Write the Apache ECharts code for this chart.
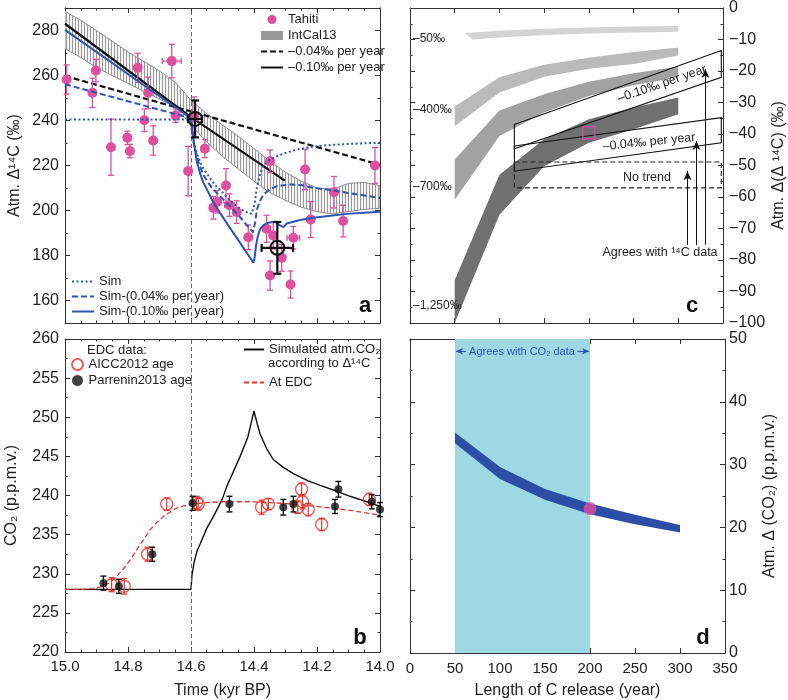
<!DOCTYPE html>
<html><head><meta charset="utf-8">
<script src="https://cdn.jsdelivr.net/npm/echarts@6/dist/echarts.min.js"></script>
<style>html,body{margin:0;padding:0;background:#fff}#c{width:788px;height:700px}</style>
</head><body><div id="c"></div>
<script>
// ================= DATA =================
// Panel a : atmospheric D14C (permil) vs time (kyr BP)
const tahiti = [ // [time, value, xErr, yErr]
  [14.995,258.2,0.01,6.5],[14.913,252.3,0.01,6.5],[14.902,262.2,0.01,5],[14.854,228.1,0.01,12.5],
  [14.802,232.3,0.01,3],[14.794,226.4,0.01,3],[14.769,263.4,0.01,6.5],[14.748,240.1,0.01,5],
  [14.736,252.3,0.01,7],[14.720,231.1,0.01,6.5],[14.661,266.4,0.03,7.5],[14.649,242.2,0.01,3],
  [14.609,217.5,0.01,11],[14.590,241.5,0.01,9],[14.556,227.5,0.01,4],[14.529,201.2,0.01,5],
  [14.517,203.9,0.01,5],[14.489,211.1,0.01,7.5],[14.478,202.4,0.015,5],[14.455,199.3,0.01,5],
  [14.418,188.1,0.01,5.5],[14.360,191.9,0.01,6],[14.349,221.9,0.01,5],[14.349,171.1,0.01,6.5],
  [14.339,188.9,0.01,6],[14.312,179.0,0.01,6],[14.284,167.1,0.01,6],[14.275,187.9,0.02,5],
  [14.238,218.2,0.01,9],[14.220,196.0,0.01,8],[14.146,208.1,0.01,7],[14.117,195.3,0.01,7],
  [14.016,220.0,0.01,8]
];
const bigCrosses = [[14.587,240.7,0.022,8.2],[14.326,183.4,0.05,11.5]];
const intcalUpper = [[15.0,288.5],[14.95,284.5],[14.9,280],[14.8,270.5],[14.7,262],[14.65,257],[14.6,249],
  [14.55,243],[14.5,238],[14.45,233],[14.4,227.5],[14.35,222],[14.3,217],[14.25,213],[14.2,210],
  [14.15,209.5],[14.1,212],[14.05,212.5],[14.0,211]];
const intcalLower = [[15.0,272],[14.95,268],[14.9,263.5],[14.8,256.5],[14.7,249.5],[14.65,246],[14.6,238],
  [14.55,230.5],[14.5,224],[14.45,218.5],[14.4,213],[14.35,208],[14.3,204.5],[14.25,201.5],[14.2,199.5],
  [14.15,198.5],[14.1,199.5],[14.05,200.5],[14.0,201]];
const trend004 = [[15.0,259.8],[14.0,220.3]];
const trend010 = [[15.0,283.0],[14.6,241.5],[14.302,213.3]];
const simDotted = [[15.0,240.5],[14.6,240.5],[14.598,236],[14.593,231],[14.582,225.6],[14.565,219.5],
  [14.55,216.5],[14.525,211.5],[14.508,209.3],[14.48,205],[14.455,201.9],[14.43,199.6],[14.407,198.5],
  [14.398,203],[14.39,211],[14.38,216.5],[14.37,220],[14.35,222.6],[14.328,224.1],[14.3,225.6],
  [14.264,227.1],[14.22,228.2],[14.18,228.9],[14.1,229.6],[14.0,230.1]];
const simDashed = [[15.0,256.1],[14.6,241],[14.597,236],[14.59,229],[14.575,221],[14.561,216],
  [14.545,212.3],[14.529,209.3],[14.5,205.2],[14.476,201.9],[14.45,198],[14.423,193.5],[14.403,190.3],
  [14.396,195],[14.391,200.4],[14.38,204.5],[14.37,207.1],[14.35,209.3],[14.328,210.8],[14.286,211.6],
  [14.25,211.3],[14.212,210.1],[14.15,209],[14.106,207.9],[14.05,206.7],[14.0,205.6]];
const simSolid = [[15.0,280.3],[14.6,241],[14.598,238],[14.593,232.5],[14.582,222],[14.571,216.5],
  [14.561,212.5],[14.55,209.5],[14.529,203.5],[14.487,194.5],[14.444,185.6],[14.402,176.8],
  [14.398,179],[14.394,184.1],[14.388,188.5],[14.381,191.6],[14.37,193.5],[14.355,194.6],[14.333,195],
  [14.32,193.6],[14.307,192.6],[14.296,194.2],[14.254,195.8],[14.212,196.8],[14.15,197.8],
  [14.106,198.5],[14.05,199],[14.0,199.4]];
const aTickLabels = [160,180,200,220,240,260,280];

// Panel b : CO2 (ppmv) vs time
const simCO2 = [[15.0,228],[14.6,228],[14.597,229.8],[14.59,231.5],[14.58,233],[14.571,233.8],
  [14.55,235.8],[14.529,237.3],[14.5,239.6],[14.487,241.1],[14.444,245],[14.42,247.4],[14.4,250.8],
  [14.39,249.2],[14.381,247.9],[14.37,246.9],[14.36,246],[14.339,244.6],[14.307,243.6],[14.275,242.8],
  [14.23,241.9],[14.19,241.3],[14.148,240.7],[14.095,239.9],[14.042,239.2],[14.0,238.6]];
const edcCurve = [[15.0,228],[14.95,228],[14.91,228.1],[14.88,228.4],[14.857,228.9],[14.835,229.7],
  [14.815,230.6],[14.792,231.8],[14.772,233.1],[14.75,234.4],[14.73,235.6],[14.71,236.5],[14.688,237.3],
  [14.666,237.9],[14.646,238.4],[14.62,238.7],[14.6,238.9],[14.55,239.1],[14.5,239.2],[14.413,239.2],
  [14.307,239.0],[14.201,238.6],[14.095,238.1],[14.0,237.5]];
const aicc2012 = [ // [time, CO2, err]
  [14.852,228.6,0.9],[14.812,228.4,1.0],[14.738,232.5,0.9],[14.677,238.9,0.8],[14.582,239.1,0.8],
  [14.577,238.9,0.8],[14.376,238.5,0.9],[14.354,238.9,0.7],[14.261,238.5,0.8],[14.249,240.8,0.8],
  [14.246,239.2,0.9],[14.228,238.2,0.8],[14.185,236.3,0.8],[14.034,239.5,0.8]];
const parrenin2013 = [
  [14.878,228.8,0.9],[14.829,228.4,0.9],[14.723,232.5,0.9],[14.595,239.0,0.9],[14.478,238.9,1.0],
  [14.307,238.5,1.0],[14.275,238.9,1.0],[14.143,238.6,0.9],[14.132,240.8,1.0],[14.026,239.2,0.9],
  [14.0,238.2,0.9]];

// Panel c : D(D14C) vs length of release (yr)
const releaseLen = [50,100,150,200,250,300];
const band50Upper = [[61,-7.9],[100,-7.2],[150,-6.6],[200,-6.2],[250,-5.9],[300,-5.7]];
const band50Lower = [[70,-10.0],[100,-9.4],[150,-8.6],[200,-8.1],[250,-7.8],[300,-7.5]];
const band400Upper = [-31.3,-22.0,-18.0,-15.8,-14.0,-12.5];
const band400Lower = [-37.5,-26.8,-21.8,-19.3,-17.8,-15.1];
const band700Upper = [-48.1,-32.5,-27.4,-23.4,-20.7,-18.6];
const band700Lower = [-60.9,-40.6,-33.2,-27.9,-24.5,-22.0];
const band1250Upper = [-86.4,-52.9,-41.7,-35.3,-31.6,-28.4];
const band1250Lower = [-100,-65.6,-50.2,-42.8,-38.5,-33.7];
const box010 = [[116.7,-37.0],[348.1,-13.5],[348.1,-22.0],[116.7,-44.7]];
const box004 = [[116.7,-43.8],[348.1,-34.8],[348.1,-42.8],[116.7,-51.8]];
const boxNoTrend = [[116.7,-48.9],[348.1,-48.9],[348.1,-57.1],[116.7,-57.1]];
const bestC = [[200,-39.6]];
const arrowX = [310.3,320.3,330.3];
const arrowTop = [-51.8,-42.2,-19.4];
const arrowBase = -75.2;

// Panel d : D(CO2) vs length of release
const co2Upper = [35.1,29.6,26.1,23.8,22.0,20.4];
const co2Lower = [33.4,27.7,24.4,22.1,20.5,19.2];
const bestD = [[200,23]];
const agreeRange = [50,200];

// ================= CHART =================
const FF = "'Liberation Sans', Arial, Helvetica, sans-serif";
const PINK = '#de4f9f', BLUE = '#2f55b0', RED = '#e8322b', TXT = '#222';

const hatch = document.createElement('canvas');
hatch.width = 3; hatch.height = 4;
(function(){const g = hatch.getContext('2d'); g.fillStyle = '#f6f6f6'; g.fillRect(0,0,3,4);
  g.fillStyle = '#999999'; g.fillRect(0,0,1,4);})();

const zipX = (ys) => ys.map((v,i)=>[releaseLen[i], v]);

function bandRender(upper, lower, style){
  return function(params, api){
    if (params.dataIndex !== 0) return;
    const pts = upper.map(p=>api.coord(p)).concat(lower.slice().reverse().map(p=>api.coord(p)));
    return {type:'polygon', shape:{points:pts}, style: style};
  };
}
function polyRender(pts, style){
  return function(params, api){
    if (params.dataIndex !== 0) return;
    return {type:'polygon', shape:{points:pts.map(p=>api.coord(p))}, style: style};
  };
}
function errRender(color, cap, lw){
  return function(params, api){
    const x = api.value(0), y = api.value(1), xe = api.value(2), ye = api.value(3);
    const st = {stroke: color, lineWidth: lw};
    const t = api.coord([x, y+ye]), b = api.coord([x, y-ye]);
    const ch = [
      {type:'line', shape:{x1:t[0],y1:t[1],x2:b[0],y2:b[1]}, style:st},
      {type:'line', shape:{x1:t[0]-cap,y1:t[1],x2:t[0]+cap,y2:t[1]}, style:st},
      {type:'line', shape:{x1:b[0]-cap,y1:b[1],x2:b[0]+cap,y2:b[1]}, style:st}
    ];
    if (xe > 0) {
      const l = api.coord([x-xe, y]), r = api.coord([x+xe, y]);
      ch.push({type:'line', shape:{x1:l[0],y1:l[1],x2:r[0],y2:r[1]}, style:st});
      ch.push({type:'line', shape:{x1:l[0],y1:l[1]-cap,x2:l[0],y2:l[1]+cap}, style:st});
      ch.push({type:'line', shape:{x1:r[0],y1:r[1]-cap,x2:r[0],y2:r[1]+cap}, style:st});
    }
    return {type:'group', children: ch};
  };
}
function crossRender(params, api){
  const x = api.value(0), y = api.value(1), xe = api.value(2), ye = api.value(3);
  const c = api.coord([x,y]);
  const st = {stroke:'#111', lineWidth:2.2, fill:null};
  const t = api.coord([x, y+ye]), b = api.coord([x, y-ye]);
  const l = api.coord([x-xe, y]), r = api.coord([x+xe, y]);
  return {type:'group', children:[
    {type:'line', shape:{x1:t[0],y1:t[1],x2:b[0],y2:b[1]}, style:st},
    {type:'line', shape:{x1:t[0]-4,y1:t[1],x2:t[0]+4,y2:t[1]}, style:st},
    {type:'line', shape:{x1:b[0]-4,y1:b[1],x2:b[0]+4,y2:b[1]}, style:st},
    {type:'line', shape:{x1:l[0],y1:l[1],x2:r[0],y2:r[1]}, style:st},
    {type:'line', shape:{x1:l[0],y1:l[1]-4,x2:l[0],y2:l[1]+4}, style:st},
    {type:'line', shape:{x1:r[0],y1:r[1]-4,x2:r[0],y2:r[1]+4}, style:st},
    {type:'circle', shape:{cx:c[0],cy:c[1],r:7}, style:{stroke:'#111', lineWidth:2, fill:null}}
  ]};
}

const axLine = {show:true, onZero:false, lineStyle:{color:'#333', width:1}};
const lblBase = {color:TXT, fontSize:15, fontFamily:FF};
const nameBase = {color:TXT, fontSize:16, fontFamily:FF};
function ax(grid, pos, min, max, interval, minor, label, extra){
  const o = {type:'value', gridIndex:grid, position:pos, min:min, max:max, interval:interval,
    axisLine:axLine, splitLine:{show:false},
    axisTick:{show:true, inside:true, length:5, lineStyle:{color:'#333', width:1}},
    axisLabel: label ? Object.assign({}, lblBase, label) : {show:false}};
  if (minor) o.minorTick = {show:true, splitNumber:minor, length:2.5, lineStyle:{color:'#333', width:1}};
  return Object.assign(o, extra||{});
}
const timeFmt = v => (Math.round(v*10)/10).toFixed(1);
const minus = v => v < 0 ? '\u2212' + Math.abs(v) : String(v);
const lineItem = name => ({name: name, itemStyle:{opacity:0}});
const legText = {fontSize:13, color:TXT, fontFamily:FF, lineHeight:13};
const ylbl = {fontSize:16, margin:6};

const option = {
  animation:false,
  backgroundColor:'#fff',
  textStyle:{fontFamily:FF},
  grid:[
    {left:65, top:8, width:315, height:315},
    {left:65, top:339, width:315, height:314},
    {left:410, top:8, width:315, height:315},
    {left:410, top:339, width:315, height:314}
  ],
  xAxis:[
    ax(0,'bottom',14,15,0.2,4,null,{inverse:true}),
    ax(0,'top',14,15,0.2,4,null,{inverse:true}),
    ax(1,'bottom',14,15,0.2,4,{formatter:timeFmt, margin:7},
      {inverse:true, name:'Time (kyr BP)', nameLocation:'middle', nameGap:31, nameTextStyle:nameBase}),
    ax(1,'top',14,15,0.2,4,null,{inverse:true}),
    ax(2,'bottom',0,350,50,0,null),
    ax(2,'top',0,350,50,0,null),
    ax(3,'bottom',0,350,50,0,{margin:8},
      {name:'Length of C release (year)', nameLocation:'middle', nameGap:30, nameTextStyle:nameBase}),
    ax(3,'top',0,350,50,0,null)
  ],
  yAxis:[
    ax(0,'left',150,290,10,0,null,{axisTick:{show:true, inside:true, length:2.5, lineStyle:{color:'#333'}}}),
    ax(0,'right',150,290,10,0,null,{axisTick:{show:true, inside:true, length:2.5, lineStyle:{color:'#333'}}}),
    ax(1,'left',220,260,5,2,ylbl,
      {name:'CO\u2082 (p.p.m.v.)', nameLocation:'middle', nameGap:45, nameRotate:90, nameTextStyle:nameBase}),
    ax(1,'right',220,260,5,2,null),
    ax(2,'right',-100,0,10,2,{fontSize:16, margin:6, formatter:minus},
      {name:'Atm. \u0394(\u0394 \u00b9\u2074C) (\u2030)', nameLocation:'middle', nameGap:48, nameRotate:90, nameTextStyle:nameBase}),
    ax(2,'left',-100,0,10,2,null),
    ax(3,'right',0,50,10,2,{fontSize:16, margin:4},
      {name:'Atm. \u0394 (CO\u2082) (p.p.m.v.)', nameLocation:'middle', nameGap:37, nameRotate:90, nameTextStyle:nameBase}),
    ax(3,'left',0,50,10,2,null),
    // panel a labelled (major) ticks at the printed values
    ax(0,'left',150,290,10,0,Object.assign({customValues:aTickLabels}, ylbl),
      {axisTick:{show:true, inside:true, length:5, customValues:aTickLabels, lineStyle:{color:'#333'}},
       name:'Atm. \u0394\u00b9\u2074C (\u2030)', nameLocation:'middle', nameGap:42, nameRotate:90, nameTextStyle:nameBase}),
    ax(0,'right',150,290,10,0,null,
      {axisTick:{show:true, inside:true, length:5, customValues:aTickLabels, lineStyle:{color:'#333'}}})
  ],
  legend:[
    {orient:'vertical', padding:0, left:260, top:13, itemWidth:22, itemHeight:9, itemGap:3, textStyle:legText,
     data:[{name:'Tahiti', icon:'circle'}, {name:'IntCal13', icon:'rect'},
           lineItem('\u20130.04\u2030 per year'), lineItem('\u20130.10\u2030 per year')]},
    {orient:'vertical', padding:0, left:71, top:275, itemWidth:22, itemHeight:9, itemGap:2, textStyle:legText,
     data:[lineItem('Sim'), lineItem('Sim-(0.04\u2030 per year)'), lineItem('Sim-(0.10\u2030 per year)')]},
    {orient:'vertical', padding:0, left:71, top:358, itemWidth:12, itemHeight:11, itemGap:3, textStyle:legText,
     data:['AICC2012 age','Parrenin2013 age']},
    {orient:'vertical', padding:0, left:243, top:343, itemWidth:20, itemHeight:9, itemGap:20, textStyle:legText,
     data:[lineItem('Simulated atm.CO\u2082'), lineItem('At EDC')]}
  ],
  graphic:[
    {type:'text', z:100, x:87, y:350, style:{text:'EDC data:', fontSize:13, fontFamily:FF, fill:TXT, verticalAlign:'middle'}},
    {type:'text', z:100, x:268, y:363, style:{text:'according to \u0394\u00b9\u2074C', fontSize:13, fontFamily:FF, fill:TXT, verticalAlign:'middle'}},
    {type:'text', z:100, x:365, y:306, style:{text:'a', fontSize:22, fontWeight:'bold', fontFamily:FF, fill:'#111', align:'center', verticalAlign:'middle'}},
    {type:'text', z:100, x:360, y:638, style:{text:'b', fontSize:22, fontWeight:'bold', fontFamily:FF, fill:'#111', align:'center', verticalAlign:'middle'}},
    {type:'text', z:100, x:692, y:306, style:{text:'c', fontSize:22, fontWeight:'bold', fontFamily:FF, fill:'#111', align:'center', verticalAlign:'middle'}},
    {type:'text', z:100, x:703, y:638, style:{text:'d', fontSize:22, fontWeight:'bold', fontFamily:FF, fill:'#111', align:'center', verticalAlign:'middle'}},
    {type:'text', z:100, x:413, y:39, style:{text:'\u201350\u2030', fontSize:12, fontFamily:FF, fill:TXT, verticalAlign:'middle'}},
    {type:'text', z:100, x:413, y:110, style:{text:'\u2013400\u2030', fontSize:12, fontFamily:FF, fill:TXT, verticalAlign:'middle'}},
    {type:'text', z:100, x:413, y:187, style:{text:'\u2013700\u2030', fontSize:12, fontFamily:FF, fill:TXT, verticalAlign:'middle'}},
    {type:'text', z:100, x:413, y:306, style:{text:'\u20131,250\u2030', fontSize:12, fontFamily:FF, fill:TXT, verticalAlign:'middle'}},
    {type:'text', z:100, x:662, y:84, rotation:0.33, style:{text:'\u20130.10\u2030 per year', fontSize:12.5, fontFamily:FF, fill:TXT, align:'center', verticalAlign:'middle'}},
    {type:'text', z:100, x:649, y:142, rotation:0.1, style:{text:'\u20130.04\u2030 per year', fontSize:12.5, fontFamily:FF, fill:TXT, align:'center', verticalAlign:'middle'}},
    {type:'text', z:100, x:647, y:178, style:{text:'No trend', fontSize:12.5, fontFamily:FF, fill:TXT, align:'center', verticalAlign:'middle'}},
    {type:'text', z:100, x:660, y:253, style:{text:'Agrees with \u00b9\u2074C data', fontSize:12.5, fontFamily:FF, fill:TXT, align:'center', verticalAlign:'middle'}},
    {type:'text', z:100, x:522, y:352, style:{text:'Agrees with CO\u2082 data', fontSize:11, fontFamily:FF, fill:BLUE, align:'center', verticalAlign:'middle'}}
  ],
  series:[
    // ---------- Panel a ----------
    {name:'IntCal13', type:'custom', xAxisIndex:0, yAxisIndex:0, clip:true, z:1,
     itemStyle:{color:'#9a9a9a'},
     renderItem: bandRender(intcalUpper, intcalLower, {fill:{image:hatch, repeat:'repeat'}, stroke:'#8c8c8c', lineWidth:1}),
     data: intcalUpper},
    {name:'\u20130.04\u2030 per year', type:'line', xAxisIndex:0, yAxisIndex:0, symbol:'none', z:3,
     lineStyle:{color:'#111', width:2.2, type:[6,3]}, itemStyle:{color:'#111'}, data:trend004},
    {name:'\u20130.10\u2030 per year', type:'line', xAxisIndex:0, yAxisIndex:0, symbol:'none', z:3,
     lineStyle:{color:'#111', width:2.2}, itemStyle:{color:'#111'}, data:trend010},
    {name:'Tahiti err', type:'custom', xAxisIndex:0, yAxisIndex:0, z:4,
     renderItem: errRender(PINK, 3, 1.3), data: tahiti},
    {name:'Tahiti', type:'scatter', xAxisIndex:0, yAxisIndex:0, symbolSize:10, z:5,
     itemStyle:{color:PINK, opacity:1}, data: tahiti.map(d=>[d[0],d[1]])},
    {name:'Sim', type:'line', xAxisIndex:0, yAxisIndex:0, symbol:'none', z:6,
     lineStyle:{color:BLUE, width:2, type:[2,2.5]}, itemStyle:{color:BLUE}, data:simDotted,
     markLine:{silent:true, symbol:'none', label:{show:false}, lineStyle:{color:'#666', width:1, type:[4,3]}, data:[{xAxis:14.6}]}},
    {name:'Sim-(0.04\u2030 per year)', type:'line', xAxisIndex:0, yAxisIndex:0, symbol:'none', z:6,
     lineStyle:{color:BLUE, width:2, type:[6,3]}, itemStyle:{color:BLUE}, data:simDashed},
    {name:'Sim-(0.10\u2030 per year)', type:'line', xAxisIndex:0, yAxisIndex:0, symbol:'none', z:6,
     lineStyle:{color:BLUE, width:2}, itemStyle:{color:BLUE}, data:simSolid},
    {name:'cross', type:'custom', xAxisIndex:0, yAxisIndex:0, z:8, renderItem: crossRender, data: bigCrosses},
    // ---------- Panel b ----------
    {name:'Simulated atm.CO\u2082', type:'line', xAxisIndex:2, yAxisIndex:2, symbol:'none', z:3,
     lineStyle:{color:'#111', width:1.4}, itemStyle:{color:'#111'}, data:simCO2,
     markLine:{silent:true, symbol:'none', label:{show:false}, lineStyle:{color:'#666', width:1, type:[4,3]}, data:[{xAxis:14.6}]}},
    {name:'At EDC', type:'line', xAxisIndex:2, yAxisIndex:2, symbol:'none', z:3,
     lineStyle:{color:RED, width:1.3, type:[5,3]}, itemStyle:{color:RED}, data:edcCurve},
    {name:'aicc err', type:'custom', xAxisIndex:2, yAxisIndex:2, z:4,
     renderItem: errRender(RED, 3, 1.2), data: aicc2012.map(d=>[d[0],d[1],0,d[2]])},
    {name:'AICC2012 age', type:'scatter', xAxisIndex:2, yAxisIndex:2, symbol:'circle', symbolSize:12, z:5,
     itemStyle:{color:'rgba(255,255,255,0)', borderColor:RED, borderWidth:1.4}, data: aicc2012.map(d=>[d[0],d[1]])},
    {name:'parr err', type:'custom', xAxisIndex:2, yAxisIndex:2, z:6,
     renderItem: errRender('#111', 3, 1.4), data: parrenin2013.map(d=>[d[0],d[1],0,d[2]])},
    {name:'Parrenin2013 age', type:'scatter', xAxisIndex:2, yAxisIndex:2, symbol:'circle', symbolSize:8, z:7,
     itemStyle:{color:'#111'}, data: parrenin2013.map(d=>[d[0],d[1]])},
    // ---------- Panel c ----------
    {name:'b50', type:'custom', xAxisIndex:4, yAxisIndex:4, clip:true, z:1,
     renderItem: bandRender(band50Upper, band50Lower, {fill:'#d3d3d3'}), data: band50Upper},
    {name:'b400', type:'custom', xAxisIndex:4, yAxisIndex:4, clip:true, z:1,
     renderItem: bandRender(zipX(band400Upper), zipX(band400Lower), {fill:'#bababa'}), data: zipX(band400Upper)},
    {name:'b700', type:'custom', xAxisIndex:4, yAxisIndex:4, clip:true, z:1,
     renderItem: bandRender(zipX(band700Upper), zipX(band700Lower), {fill:'#a2a2a2'}), data: zipX(band700Upper)},
    {name:'b1250', type:'custom', xAxisIndex:4, yAxisIndex:4, clip:true, z:1,
     renderItem: bandRender(zipX(band1250Upper), zipX(band1250Lower), {fill:'#707070'}), data: zipX(band1250Upper)},
    {name:'box010', type:'custom', xAxisIndex:4, yAxisIndex:4, z:3,
     renderItem: polyRender(box010, {fill:null, stroke:'#111', lineWidth:1.1}), data: box010},
    {name:'box004', type:'custom', xAxisIndex:4, yAxisIndex:4, z:3,
     renderItem: polyRender(box004, {fill:null, stroke:'#111', lineWidth:1.1}), data: box004},
    {name:'boxNo', type:'custom', xAxisIndex:4, yAxisIndex:4, z:3,
     renderItem: polyRender(boxNoTrend, {fill:null, stroke:'#222', lineWidth:1.1, lineDash:[5,3]}), data: boxNoTrend},
    {name:'bestC', type:'scatter', xAxisIndex:4, yAxisIndex:4, symbol:'rect', symbolSize:12, z:4,
     itemStyle:{color:'rgba(0,0,0,0)', borderColor:PINK, borderWidth:1.5}, data: bestC,
     markLine:{silent:true, symbol:['none','arrow'], symbolSize:[6,9], label:{show:false},
       lineStyle:{color:'#111', width:1, type:'solid'},
       data: arrowX.map((x,i)=>[{coord:[x, arrowBase]},{coord:[x, arrowTop[i]]}])}},
    // ---------- Panel d ----------
    {name:'agree', type:'line', xAxisIndex:6, yAxisIndex:6, symbol:'none', z:0, data:[],
     markArea:{silent:true, itemStyle:{color:'#9fd8e2'}, data:[[{xAxis:agreeRange[0]},{xAxis:agreeRange[1]}]]},
     markLine:{silent:true, symbol:['none','arrow'], symbolSize:[5,7], label:{show:false},
       lineStyle:{color:BLUE, width:1.2, type:'solid'},
       data:[[{coord:[62,48.05]},{coord:[agreeRange[0]+1,48.05]}],[{coord:[186,48.05]},{coord:[agreeRange[1]-1,48.05]}]]}},
    {name:'co2band', type:'custom', xAxisIndex:6, yAxisIndex:6, z:2,
     renderItem: bandRender(zipX(co2Upper), zipX(co2Lower), {fill:'#2d4ea6'}), data: zipX(co2Upper)},
    {name:'bestD', type:'scatter', xAxisIndex:6, yAxisIndex:6, symbolSize:13, z:4,
     itemStyle:{color:PINK}, data: bestD}
  ]
};
const chart = echarts.init(document.getElementById('c'), null, {renderer:'canvas'});
chart.setOption(option);
</script></body></html>
